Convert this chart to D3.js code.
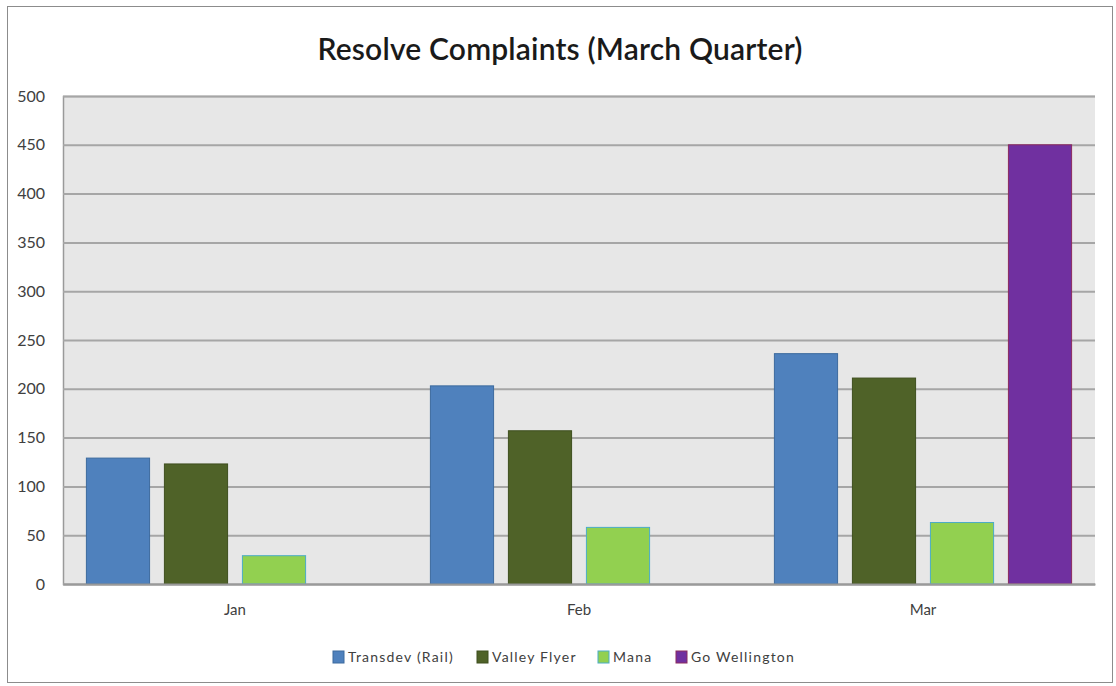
<!DOCTYPE html>
<html>
<head>
<meta charset="utf-8">
<script src="https://cdn.jsdelivr.net/npm/d3@7"></script>
<style>
  body { margin: 0; background: #fff; }
  text { font-family: Lato, "Open Sans", sans-serif; fill: #404040; }
</style>
</head>
<body>
<svg width="1116" height="686"></svg>
<script>
const months = ["Jan", "Feb", "Mar"];
const seriesNames = ["Transdev (Rail)", "Valley Flyer", "Mana", "Go Wellington"];
const transdev = [129, 203, 236];
const valleyFlyer = [123, 157, 211];
const mana = [29, 58, 63];
const goWellington = [null, null, 450];
const yTicks = [0, 50, 100, 150, 200, 250, 300, 350, 400, 450, 500];
const fills = ["#4F81BD", "#4F6228", "#92D050", "#7030A0"];
const strokes = ["#3C6A9E", "#3E4F1E", "#4BACC6", "#8B2A5E"];

const svg = d3.select('svg');
const width = +svg.attr('width');
const height = +svg.attr('height');
const margin = { top: 96, right: 21, bottom: 102, left: 63 };

const values = [transdev, valleyFlyer, mana, goWellington];
const rows = [];
months.forEach((m, i) => {
    seriesNames.forEach((s, j) => {
        if (values[j][i] != null) rows.push({ month: m, key: s, value: values[j][i] });
    });
});

// outer frame
svg.append("rect")
    .attr("x", 7.5).attr("y", 6.5)
    .attr("width", 1105).attr("height", 676)
    .attr("fill", "#fff")
    .attr("stroke", "#8c8c8c");

svg.append("text")
    .attr("x", 560).attr("y", 60)
    .attr("text-anchor", "middle")
    .attr("font-size", 30)
    .attr("font-weight", 600)
    .attr("textLength", 485)
    .style("fill", "#1a1a1a")
    .text("Resolve Complaints (March Quarter)");

const x0 = d3.scaleBand()
    .domain(months)
    .range([margin.left, width - margin.right]);

const x1 = d3.scaleBand()
    .domain(seriesNames)
    .range([0, x0.bandwidth()])
    .paddingInner(0.19)
    .paddingOuter(0.3);

const y = d3.scaleLinear()
    .domain([0, 500])
    .range([height - margin.bottom, margin.top]);

const color = d3.scaleOrdinal().domain(seriesNames).range(fills);
const edge = d3.scaleOrdinal().domain(seriesNames).range(strokes);

// plot background
svg.append("rect")
    .attr("x", margin.left).attr("y", margin.top)
    .attr("width", width - margin.left - margin.right)
    .attr("height", y(0) - y(500))
    .attr("fill", "#e7e7e7");

const yAxis = g => g
    .attr("transform", `translate(${margin.left},0)`)
    .call(d3.axisLeft(y).tickValues(yTicks).tickSize(-(width - margin.left - margin.right)).tickPadding(18))
    .call(g => g.select(".domain").attr("stroke", "#9a9a9a").attr("stroke-width", 1.5))
    .call(g => g.selectAll(".tick line").attr("stroke", "#a6a6a6").attr("stroke-width", 2))
    .call(g => g.selectAll(".tick text").attr("font-size", 16).attr("font-family", "Lato, sans-serif").style("fill", "#404040"));

svg.append('g').call(yAxis);

svg.append("g")
    .selectAll("rect")
    .data(rows)
    .join("rect")
        .attr("x", d => x0(d.month) + x1(d.key))
        .attr("y", d => y(d.value))
        .attr("width", x1.bandwidth())
        .attr("height", d => y(0) - y(d.value))
        .attr("fill", d => color(d.key))
        .attr("stroke", d => edge(d.key))
        .attr("stroke-width", 1);

const xAxis = g => g
    .attr("transform", `translate(0,${y(0)})`)
    .call(d3.axisBottom(x0).tickSize(0).tickPadding(20))
    .call(g => g.select(".domain").attr("stroke", "#9a9a9a").attr("stroke-width", 2))
    .call(g => g.selectAll(".tick text").attr("font-size", 15).attr("font-family", "Lato, sans-serif").style("fill", "#404040"));

svg.append('g').call(xAxis);

// legend
const legendX = [333, 477, 598, 676];
const legend = svg.append("g")
    .selectAll("g")
    .data(seriesNames)
    .join("g")
        .attr("transform", (d, i) => `translate(${legendX[i]},651)`);

legend.append("rect")
    .attr("width", 11).attr("height", 12)
    .attr("fill", d => color(d))
    .attr("stroke", d => edge(d));

legend.append("text")
    .attr("x", 15).attr("y", 11)
    .attr("font-size", 14)
    .attr("letter-spacing", 1.2)
    .text(d => d);
</script>
</body>
</html>
